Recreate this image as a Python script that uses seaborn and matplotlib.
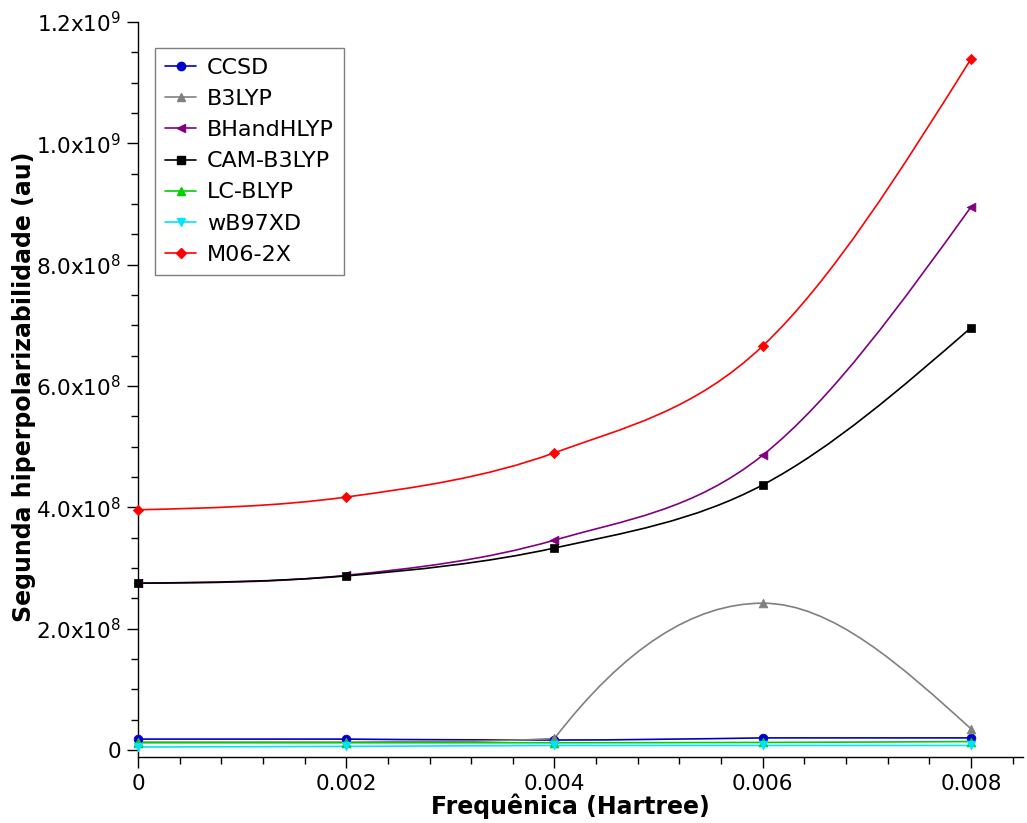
import numpy as np
import pandas as pd
import matplotlib
matplotlib.use("Agg")
import matplotlib.pyplot as plt
import seaborn as sns
from matplotlib.path import Path
from matplotlib.patches import PathPatch
from matplotlib.lines import Line2D
from matplotlib.ticker import MultipleLocator, FixedLocator

# ---------------- data ----------------
freq = [0.0, 0.002, 0.004, 0.006, 0.008]
ccsd = [1.8e7, 1.8e7, 1.65e7, 2.0e7, 2.0e7]
b3lyp = [1.3e7, 1.3e7, 1.9e7, 2.42e8, 3.5e7]
bhandhlyp = [2.75e8, 2.88e8, 3.46e8, 4.86e8, 8.95e8]
cam_b3lyp = [2.75e8, 2.87e8, 3.33e8, 4.37e8, 6.96e8]
lc_blyp = [1.2e7, 1.2e7, 1.2e7, 1.25e7, 1.4e7]
wb97xd = [5e6, 6e6, 7.5e6, 7.5e6, 7.5e6]
m062x = [3.96e8, 4.17e8, 4.90e8, 6.66e8, 11.39e8]

series_names = ["CCSD", "B3LYP", "BHandHLYP", "CAM-B3LYP", "LC-BLYP", "wB97XD", "M06-2X"]
series_values = [ccsd, b3lyp, bhandhlyp, cam_b3lyp, lc_blyp, wb97xd, m062x]
series_colors = ["#0000CC", "#808080", "#800080", "#000000", "#00D000", "#00E5FF", "#FF0000"]
series_markers = ["o", "^", "<", "s", "^", "v", "D"]

xtick_values = [0.0, 0.002, 0.004, 0.006, 0.008]
xtick_labels = ["0", "0.002", "0.004", "0.006", "0.008"]
ytick_values = [0, 2e8, 4e8, 6e8, 8e8, 1.0e9, 1.2e9]
ytick_labels = ["0", "2.0x10$^{8}$", "4.0x10$^{8}$", "6.0x10$^{8}$",
                "8.0x10$^{8}$", "1.0x10$^{9}$", "1.2x10$^{9}$"]

xlabel = "Frequênica (Hartree)"
ylabel = "Segunda hiperpolarizabilidade (au)"

# ---------------- style ----------------
sns.set_style("ticks")
plt.rcParams["font.family"] = ["DejaVu Sans"]
plt.rcParams["mathtext.fontset"] = "dejavusans"
plt.rcParams["text.color"] = "black"
plt.rcParams["axes.labelcolor"] = "black"
plt.rcParams["xtick.color"] = "black"
plt.rcParams["ytick.color"] = "black"


def smooth_path(x, y):
    """Cubic Bezier path (in data coordinates) through the data points."""
    x = np.asarray(x, float)
    y = np.asarray(y, float)
    n = len(x)
    d = np.diff(y) / np.diff(x)
    m = np.zeros(n)
    m[1:-1] = (y[2:] - y[:-2]) / (x[2:] - x[:-2])
    for i in range(1, n - 1):
        if d[i - 1] * d[i] < 0:
            m[i] = 0.0
    m[0] = 1.5 * d[0] - 0.5 * m[1]
    m[-1] = 1.5 * d[-1] - 0.5 * m[-2]

    def lim(t, s):
        if s == 0 or t * s <= 0:
            return 0.0
        return np.sign(s) * min(abs(t), 3 * abs(s))

    verts = [(x[0], y[0])]
    codes = [Path.MOVETO]
    for i in range(n - 1):
        h = x[i + 1] - x[i]
        a = lim(m[i], d[i])
        b = lim(m[i + 1], d[i])
        if d[i] != 0:
            if b == 0 and a != 0:
                a = 2 * d[i]
            elif a == 0 and b != 0 and i > 0:
                b = 1.5 * d[i]
        verts += [(x[i] + h / 3, y[i] + a * h / 3),
                  (x[i + 1] - h / 3, y[i + 1] - b * h / 3),
                  (x[i + 1], y[i + 1])]
        codes += [Path.CURVE4] * 3
    return Path(verts, codes)


fig = plt.figure(figsize=(10.27, 8.23), dpi=100)
ax = fig.add_axes([138 / 1027, 1 - 757 / 823, 885 / 1027, 735 / 823])

handles = []
for name, vals, col, mk in zip(series_names, series_values, series_colors, series_markers):
    patch = PathPatch(smooth_path(freq, vals), facecolor="none", edgecolor=col,
                      lw=1.2, transform=ax.transData, clip_on=False)
    ax.add_patch(patch)
    df = pd.DataFrame({"x": freq, "y": vals})
    sns.scatterplot(data=df, x="x", y="y", ax=ax, color=col, marker=mk,
                    s=40 if mk != "D" else 28, edgecolor=col, linewidth=0.5,
                    clip_on=False, zorder=3, legend=False)
    handles.append(Line2D([], [], color=col, marker=mk, lw=1.2,
                          markersize=6 if mk != "D" else 5, label=name))

ax.set_xlim(0, 0.0085)
ax.set_ylim(-1.15e7, 1.2e9)

ax.xaxis.set_major_locator(FixedLocator(xtick_values))
ax.set_xticklabels(xtick_labels)
ax.xaxis.set_minor_locator(MultipleLocator(0.0004))
ax.yaxis.set_major_locator(FixedLocator(ytick_values))
ax.set_yticklabels(ytick_labels)
ax.yaxis.set_minor_locator(MultipleLocator(5e7))

ax.tick_params(axis="both", which="major", direction="out", length=8, width=1,
               labelsize=15.5, color="black", labelcolor="black", pad=4)
ax.tick_params(axis="both", which="minor", direction="out", length=5, width=1,
               color="black")

for s in ["top", "right"]:
    ax.spines[s].set_visible(False)
for s in ["left", "bottom"]:
    ax.spines[s].set_color("black")
    ax.spines[s].set_linewidth(1)

ax.set_xlabel(xlabel, fontsize=17, fontweight="bold", color="black")
ax.set_ylabel(ylabel, fontsize=17, fontweight="bold", color="black")
ax.xaxis.set_label_coords(0.488, -0.05)
ax.yaxis.set_label_coords(-0.115, 0.503)

leg = fig.legend(handles=handles, loc="upper left",
                 bbox_to_anchor=(155 / 1027, 1 - 48 / 823),
                 bbox_transform=fig.transFigure, borderaxespad=0,
                 fontsize=16, frameon=True, fancybox=False, framealpha=1,
                 edgecolor="#7f7f7f", handlelength=1.4, handletextpad=0.5,
                 labelspacing=0.5, borderpad=0.45)
leg.get_frame().set_linewidth(1)
for t in leg.get_texts():
    t.set_color("black")

fig.savefig("out.png", dpi=100)
